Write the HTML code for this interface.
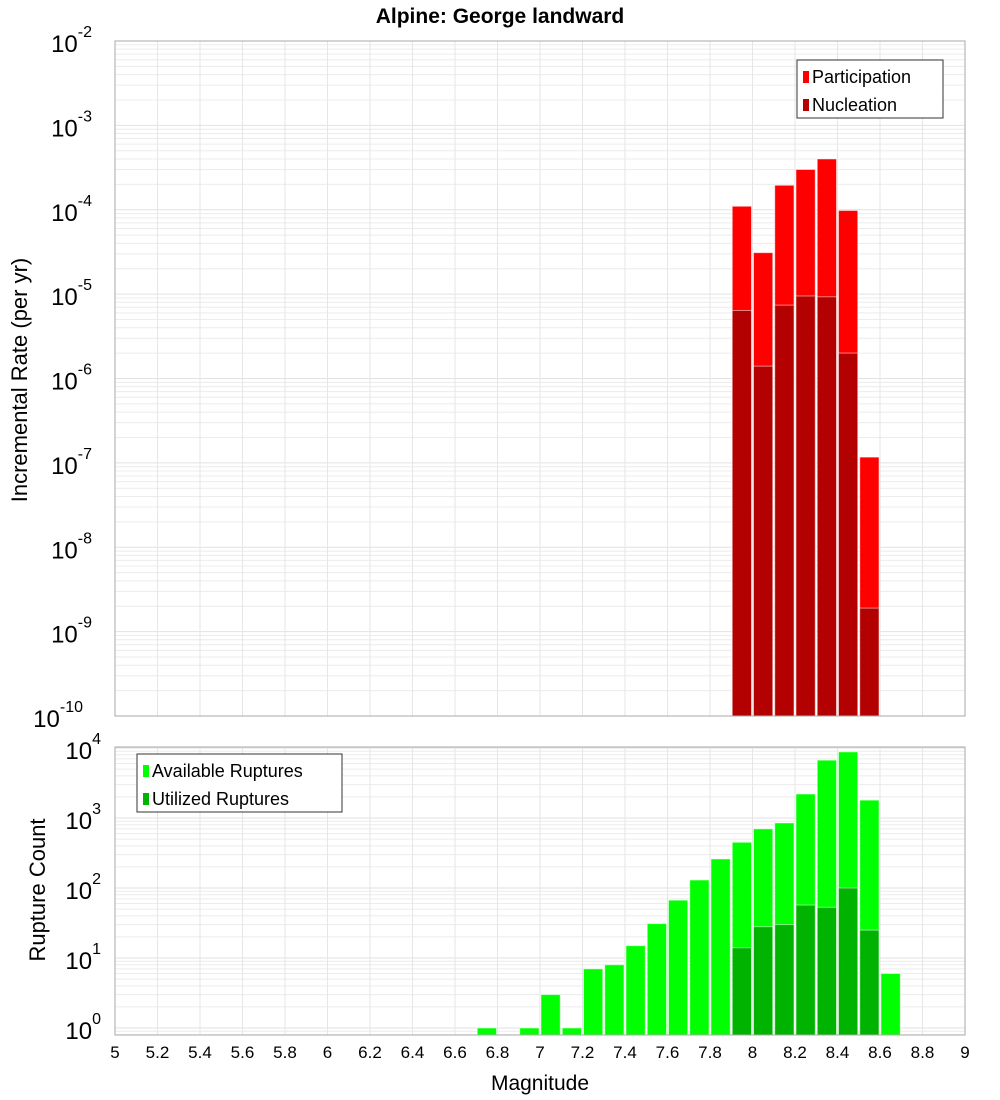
<!DOCTYPE html>
<html><head><meta charset="utf-8"><style>
body{margin:0;background:#fff;}
svg{display:block;font-family:"Liberation Sans","DejaVu Sans",sans-serif;}
</style></head><body>
<svg id="c" width="1000" height="1100"></svg>
<script>
const magCenters=[7.95,8.05,8.15,8.25,8.35,8.45,8.55];
const participation=[1.1e-4,3.1e-5,1.95e-4,3.0e-4,4.0e-4,9.8e-5,1.17e-7];
const nucleation=[6.4e-6,1.4e-6,7.4e-6,9.5e-6,9.3e-6,2.0e-6,1.9e-9];
const countMags=[6.75,6.95,7.05,7.15,7.25,7.35,7.45,7.55,7.65,7.75,7.85,7.95,8.05,8.15,8.25,8.35,8.45,8.55,8.65];
const available=[1,1,3,1,7,8,15,31,67,130,260,450,700,850,2200,6700,8800,1800,6];
const utilMags=[7.95,8.05,8.15,8.25,8.35,8.45,8.55];
const utilized=[14,28,30,57,53,100,25];
const xTicks=[5,5.2,5.4,5.6,5.8,6,6.2,6.4,6.6,6.8,7,7.2,7.4,7.6,7.8,8,8.2,8.4,8.6,8.8,9];
const topExps=[-2,-3,-4,-5,-6,-7,-8,-9,-10];
const botExps=[0,1,2,3,4];

const NS="http://www.w3.org/2000/svg";
const svg=document.getElementById('c');
function mk(tag,attrs,parent){const e=document.createElementNS(NS,tag);for(const k in attrs)e.setAttribute(k,attrs[k]);(parent||svg).appendChild(e);return e;}
const X0=115,X1=965;
const x=m=>X0+(m-5)/4*(X1-X0);
const T0=41,T1=716;
const yTop=v=>T0+(-2-Math.log10(v))*(T1-T0)/8;
const B0=747,B1=1035;
const yBot=v=>1028-Math.log10(v)*70;

// title
let t=mk('text',{x:500,y:23,'text-anchor':'middle','font-size':21,'font-weight':'bold'});t.textContent='Alpine: George landward';


function grid(y0,y1,yfn,expMin,expMax){
  const g=mk('g',{});
  
  for(let e=expMin;e<expMax;e++)for(let k=1;k<10;k++){const yy=yfn(k*Math.pow(10,e));if(yy>=y0&&yy<=y1)mk('line',{x1:X0,x2:X1,y1:yy,y2:yy,stroke:k==1?'#e2e2e2':'#ececec','stroke-width':1},g);}
  xTicks.forEach(m=>mk('line',{x1:x(m),x2:x(m),y1:y0,y2:y1,stroke:'#e6e6e6'},g));
}
grid(T0,T1,yTop,-10,-1);
grid(B0,B1,yBot,-1,5);

function bar(m,v,yfn,base,fill,name){
  const yy=yfn(v);
  const r=mk('rect',{x:x(m-0.05)+1,y:yy,width:x(m+0.05)-x(m-0.05)-2,height:base-yy,fill:fill,stroke:'rgba(255,255,255,0.5)','stroke-width':1});
  
}
magCenters.forEach((m,i)=>bar(m,participation[i],yTop,T1,'#ff0000','participation-bar'));
magCenters.forEach((m,i)=>bar(m,nucleation[i],yTop,T1,'#b30000','nucleation-bar'));
countMags.forEach((m,i)=>bar(m,available[i],yBot,B1,'#00ff00','available-bar'));
utilMags.forEach((m,i)=>bar(m,utilized[i],yBot,B1,'#00b300','utilized-bar'));

mk('rect',{x:X0,y:T0,width:X1-X0,height:T1-T0,fill:'none',stroke:'#aaa'});
mk('rect',{x:X0,y:B0,width:X1-X0,height:B1-B0,fill:'none',stroke:'#aaa'});

function ylab(yy,e,name){
  const tx=mk('text',{x:108,y:yy+11,'text-anchor':'end','font-size':24});
  
  tx.textContent='10';
  const s=mk('tspan',{dy:-15,'font-size':16});s.textContent=String(e);tx.appendChild(s);
  tx.setAttribute('x',110-(String(e).length*9));
}
topExps.forEach(e=>ylab(yTop(Math.pow(10,e)),e,'y-tick-label-top'));
botExps.forEach(e=>ylab(yBot(Math.pow(10,e)),e,'y-tick-label-bottom'));

xTicks.forEach(m=>{const tx=mk('text',{x:x(m),y:1058,'text-anchor':'middle','font-size':17});tx.textContent=String(m);
  });

t=mk('text',{x:540,y:1090,'text-anchor':'middle','font-size':21});t.textContent='Magnitude';

t=mk('text',{x:0,y:0,'text-anchor':'middle','font-size':22,transform:'translate(27,380) rotate(-90)'});t.textContent='Incremental Rate (per yr)';

t=mk('text',{x:0,y:0,'text-anchor':'middle','font-size':22,transform:'translate(45,890) rotate(-90)'});t.textContent='Rupture Count';


function legend(lx,ly,w,items,name){
  const g=mk('g',{});
  mk('rect',{x:lx,y:ly,width:w,height:58,fill:'#fff',stroke:'#333'},g);
  items.forEach((it,i)=>{
    mk('rect',{x:lx+6,y:ly+11+i*28,width:6,height:12,fill:it[1]},g);
    const tx=mk('text',{x:lx+15,y:ly+23+i*28,'font-size':18},g);tx.textContent=it[0];
  });
}
legend(797,60,146,[['Participation','#ff0000'],['Nucleation','#b30000']],'legend-top');
legend(137,754,205,[['Available Ruptures','#00ff00'],['Utilized Ruptures','#00b300']],'legend-bottom');
</script>
</body></html>
